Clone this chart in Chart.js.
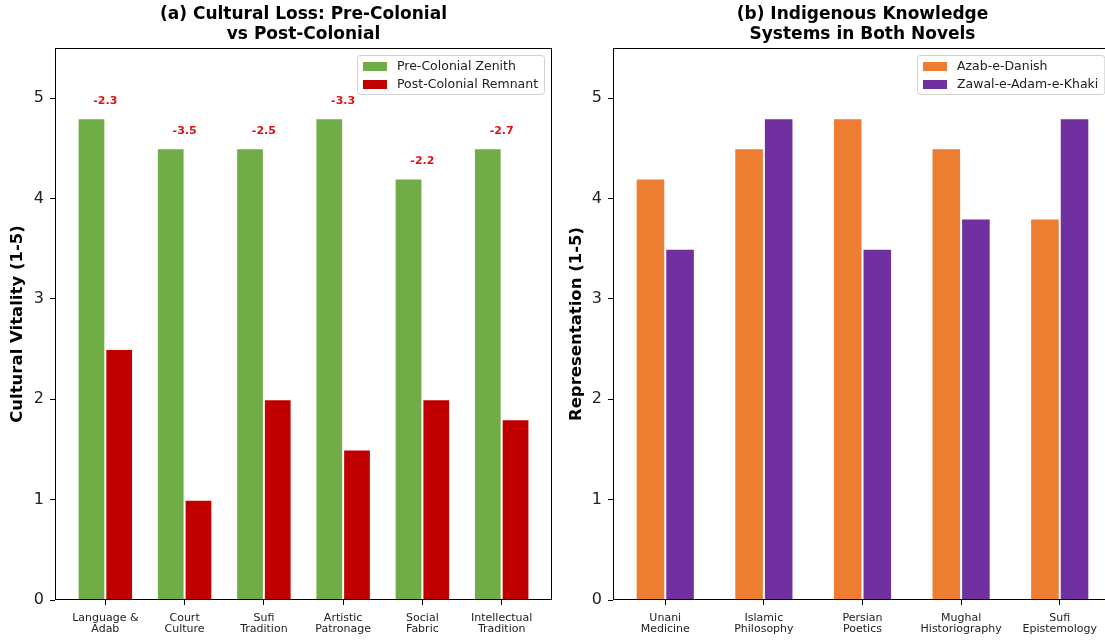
<!DOCTYPE html>
<html>
<head>
<meta charset="utf-8">
<script src="https://cdn.jsdelivr.net/npm/chart.js@4.4.1/dist/chart.umd.min.js"></script>
<style>
    html, body { margin: 0; padding: 0; background: #fff; overflow: hidden; width: 1105px; height: 640px; }
    .panel { position: absolute; top: 0; height: 640px; overflow: hidden; }
    #lossPanel { left: 0; width: 560px; }
    #knowledgePanel { left: 560px; width: 545px; }
</style>
</head>
<body>
<div class="panel" id="lossPanel"><canvas id="lossChart" width="560" height="640"></canvas></div>
<div class="panel" id="knowledgePanel"><canvas id="knowledgeChart" width="560" height="640"></canvas></div>
<script>
// data
const lossCategories = [['Language &', 'Adab'], ['Court', 'Culture'], ['Sufi', 'Tradition'], ['Artistic', 'Patronage'], ['Social', 'Fabric'], ['Intellectual', 'Tradition']];
const preColonial  = [4.8, 4.5, 4.5, 4.8, 4.2, 4.5];
const postColonial = [2.5, 1.0, 2.0, 1.5, 2.0, 1.8];

const knowledgeCategories = [['Unani', 'Medicine'], ['Islamic', 'Philosophy'], ['Persian', 'Poetics'], ['Mughal', 'Historiography'], ['Sufi', 'Epistemology']];
const azabDanish = [4.2, 4.5, 4.8, 4.5, 3.8];
const zawalAdam  = [3.5, 4.8, 3.5, 3.8, 4.8];

const yTicks = [0, 1, 2, 3, 4, 5];

const FONT = "'DejaVu Sans', sans-serif";

// frame, panel title, boxed legend and difference labels
const panelPlugin = {
    id: 'panel',
    afterDatasetsDraw(chart, args, opts) {
        const { ctx, chartArea: a } = chart;
        ctx.save();

        ctx.strokeStyle = '#000';
        ctx.lineWidth = 1;
        ctx.strokeRect(Math.round(a.left) + 0.5, Math.round(a.top) + 0.5,
            Math.round(a.right - a.left) - 1, Math.round(a.bottom - a.top) - 1);

        ctx.fillStyle = '#000';
        ctx.font = `bold 17px ${FONT}`;
        ctx.textAlign = 'center';
        ctx.textBaseline = 'middle';
        const cx = (a.left + a.right) / 2;
        opts.title.forEach((t, i) => ctx.fillText(t, cx, 15 + i * 20));

        // legend box
        ctx.font = `12.5px ${FONT}`;
        const items = chart.data.datasets;
        const textW = Math.max(...items.map(d => ctx.measureText(d.label).width));
        const boxW = 6 + 24 + 10 + textW + 6;
        const boxH = 39;
        const bx = Math.round(a.right - 8 - boxW);
        const by = a.top + 7;
        ctx.beginPath();
        ctx.roundRect(bx + 0.5, by + 0.5, boxW, boxH, 3);
        ctx.fillStyle = 'rgba(255,255,255,0.8)';
        ctx.fill();
        ctx.strokeStyle = '#d0d0d0';
        ctx.stroke();
        ctx.textAlign = 'left';
        items.forEach((d, i) => {
            const ry = by + 11 + i * 18;
            ctx.fillStyle = d.backgroundColor;
            ctx.fillRect(bx + 6, ry - 4, 24, 9);
            ctx.fillStyle = '#222';
            ctx.fillText(d.label, bx + 40, ry + 1);
        });

        // differences above each group
        if (opts.diffs) {
            const xs = chart.scales.x, ys = chart.scales.y;
            const [pre, post] = items.map(d => d.data);
            ctx.font = `bold 11px ${FONT}`;
            ctx.fillStyle = '#dd1111';
            ctx.textAlign = 'center';
            ctx.textBaseline = 'bottom';
            pre.forEach((p, i) => {
                const diff = post[i].y - p.y;
                const top = Math.max(p.y, post[i].y) + 0.15;
                ctx.fillText(diff.toFixed(1), xs.getPixelForValue(i), ys.getPixelForValue(top) + 3);
            });
        }
        ctx.restore();
    }
};

function makeChart(id, cfg) {
    const points = arr => arr.map((v, i) => ({ x: i, y: v }));
    return new Chart(document.getElementById(id), {
        type: 'bar',
        data: {
            datasets: cfg.series.map(s => ({
                label: s.label,
                data: points(s.values),
                backgroundColor: s.color,
                borderColor: 'rgba(255,255,255,0.85)',
                borderWidth: 1,
                categoryPercentage: cfg.groupWidth,
                barPercentage: 1.0,
            }))
        },
        options: {
            responsive: false,
            devicePixelRatio: 1,
            animation: false,
            layout: { padding: { top: 48, right: cfg.padRight, left: 0, bottom: 0 } },
            plugins: {
                legend: { display: false },
                title: { display: false },
                tooltip: { enabled: false },
                panel: { title: cfg.title, diffs: cfg.diffs },
            },
            scales: {
                x: {
                    type: 'linear',
                    min: cfg.xMin,
                    max: cfg.categories.length - 1 - cfg.xMin,
                    offset: false,
                    border: { display: false },
                    grid: { offset: false, drawOnChartArea: false, drawTicks: true, tickLength: 5, color: '#000', lineWidth: 1 },
                    afterBuildTicks: ax => { ax.ticks = cfg.categories.map((c, i) => ({ value: i })); },
                    afterFit: s => { s.height = 40; s.paddingLeft = 0; s.paddingRight = 0; },
                    ticks: {
                        autoSkip: false,
                        maxRotation: 0,
                        padding: 7,
                        color: '#222',
                        font: { family: FONT, size: 11, lineHeight: 1.05 },
                        callback: v => cfg.categories[v],
                    },
                },
                y: {
                    min: 0,
                    max: 5.5,
                    border: { display: false },
                    grid: { drawOnChartArea: false, drawTicks: true, tickLength: 5, color: '#000', lineWidth: 1 },
                    afterBuildTicks: ax => { ax.ticks = yTicks.map(v => ({ value: v })); },
                    afterFit: s => { s.width = cfg.yWidth; s.paddingTop = 0; s.paddingBottom = 0; },
                    ticks: { padding: 6, color: '#222', font: { family: FONT, size: 16 } },
                    title: {
                        display: true,
                        text: cfg.yTitle,
                        color: '#000',
                        padding: { top: cfg.yTitlePad, bottom: 0 },
                        font: { family: FONT, size: 16.5, weight: 'bold' },
                    },
                },
            },
        },
        plugins: [panelPlugin],
    });
}

makeChart('lossChart', {
    title: ['(a) Cultural Loss: Pre-Colonial', 'vs Post-Colonial'],
    categories: lossCategories,
    series: [
        { label: 'Pre-Colonial Zenith', values: preColonial, color: '#70AD47' },
        { label: 'Post-Colonial Remnant', values: postColonial, color: '#C00000' },
    ],
    groupWidth: 0.7,
    xMin: -0.635,
    yWidth: 55,
    padRight: 8,
    yTitle: 'Cultural Vitality (1-5)',
    yTitlePad: 8,
    diffs: true,
});

// right panel runs past the window edge; its right spine is cut off like the original
makeChart('knowledgeChart', {
    title: ['(b) Indigenous Knowledge', 'Systems in Both Novels'],
    categories: knowledgeCategories,
    series: [
        { label: 'Azab-e-Danish', values: azabDanish, color: '#ED7D31' },
        { label: 'Zawal-e-Adam-e-Khaki', values: zawalAdam, color: '#7030A0' },
    ],
    groupWidth: 0.6,
    xMin: -0.53,
    yWidth: 53,
    padRight: 8,
    yTitle: 'Representation (1-5)',
    yTitlePad: 7,
    diffs: false,
});
</script>
</body>
</html>
